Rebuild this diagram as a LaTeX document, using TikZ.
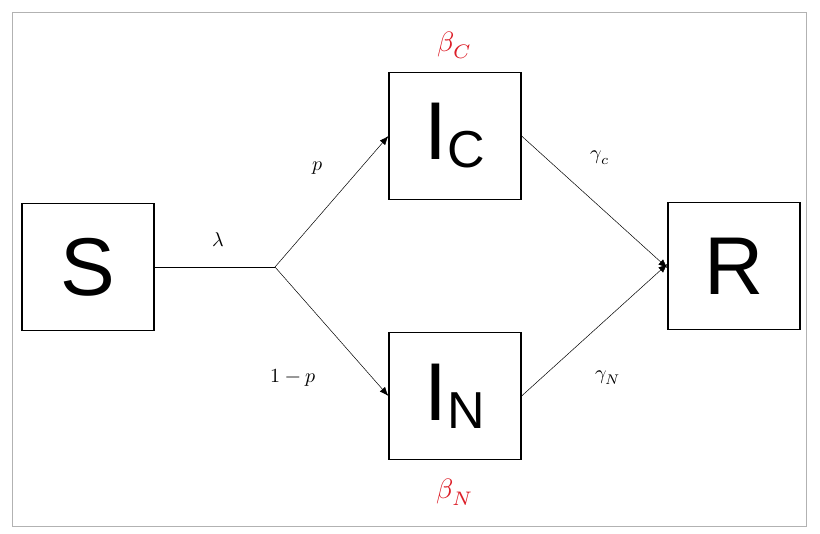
\documentclass[tikz,border=0pt]{standalone}
\usepackage{fontspec}
\setmainfont{Liberation Sans}
\usepackage{unicode-math}
\setmathfont{Latin Modern Math}
\usepackage{graphicx}
\usetikzlibrary{arrows.meta}
\definecolor{bred}{RGB}{220,30,40}
\newcommand{\sclmath}[2]{\scalebox{#1}{$#2$}}
\begin{document}
\begin{tikzpicture}[x=1pt,y=-1pt,
 box/.style={draw,line width=1.2pt,minimum width=132pt,minimum height=127pt,inner sep=0,font=\fontsize{82}{82}\selectfont},
 lab/.style={inner sep=0},
 beta/.style={inner sep=0,text=bred},
 arr/.style={-{Latex[length=9pt,width=7pt]},line width=0.5pt}]
\useasboundingbox (0,0) rectangle (820,534);
\draw[gray!60,line width=0.8pt] (12,12) rectangle (806,526);
\node[box] (S) at (88,267) {S};
\node[box] (IC) at (455,136) {I\raisebox{-8pt}{\fontsize{52}{52}\selectfont C}};
\node[box] (IN) at (455,396) {I\raisebox{-8pt}{\fontsize{52}{52}\selectfont N}};
\node[box] (R) at (734,266) {R};
\coordinate (J) at (275,267);
\draw[line width=0.5pt] (S.east) -- (J);
\draw[arr] (J) -- (IC.west);
\draw[arr] (J) -- (IN.west);
\draw[arr] (IC.east) -- ([yshift=-2pt]R.west);
\draw[arr] (IN.east) -- ([yshift=2pt]R.west);
\node[lab] (l) at (218,240) {\sclmath{2}{\lambda}};
\node[lab] (p) at (318,168) {\sclmath{2}{p}};
\node[lab] (q) at (293,378) {\sclmath{2}{1-p}};
\node[lab] (gc) at (600,158) {\sclmath{2}{\gamma_c}};
\node[lab] (gn) at (608,378) {\sclmath{2}{\gamma_N}};
\node[beta] (bc) at (455,45) {\sclmath{2.8}{\beta_C}};
\node[beta] (bn) at (455,492) {\sclmath{2.8}{\beta_N}};
\end{tikzpicture}
\end{document}
